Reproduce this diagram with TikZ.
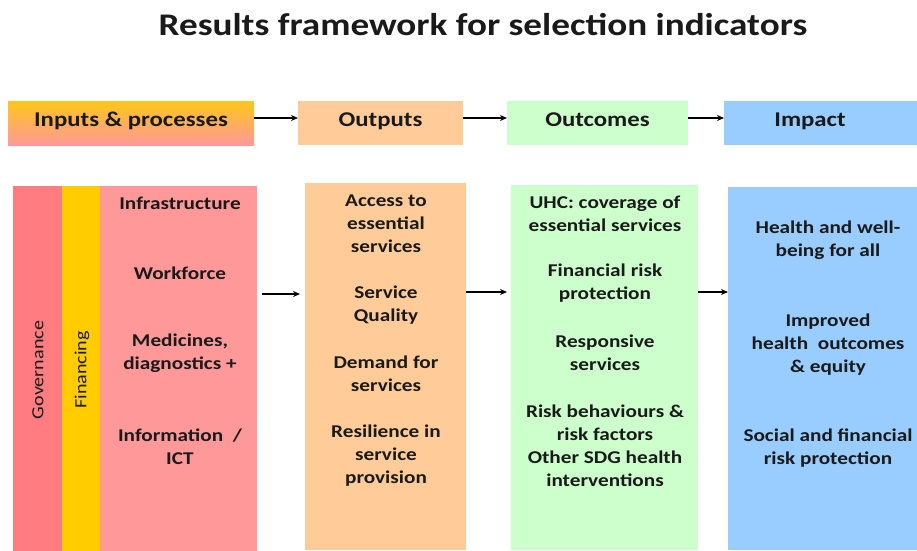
\documentclass[tikz,border=0pt]{standalone}
\usepackage{fontspec}
\setmainfont{Carlito}[FakeStretch=1.18]
\usetikzlibrary{arrows.meta}
\definecolor{txt}{HTML}{1A1A1A}
\definecolor{govc}{HTML}{FF7C80}
\definecolor{pinkc}{HTML}{FF9999}
\definecolor{finc}{HTML}{FFCC00}
\definecolor{outc}{HTML}{FFCC99}
\definecolor{outcomc}{HTML}{CCFFCC}
\definecolor{impc}{HTML}{99CCFF}
\definecolor{topy}{HTML}{FFC61A}
\tikzset{
  box/.style={draw=none, inner sep=0pt, outer sep=0pt},
  head/.style={text=txt, anchor=base, inner sep=0pt, font=\fontsize{21}{24}\selectfont\bfseries},
  body/.style={text=txt, align=center, inner sep=0pt, font=\fontsize{18}{23}\selectfont\bfseries},
  side/.style={text=txt, rotate=90, inner sep=0pt, font=\fontsize{17}{20}\selectfont},
  arr/.style={-{Stealth[length=7pt,width=6pt]}, line width=1.4pt, black}
}
\begin{document}
\begin{tikzpicture}[x=1pt,y=-1pt]
\useasboundingbox (0,0) rectangle (917,550);
% title
\node[text=txt, anchor=base, inner sep=0pt, font=\fontsize{31.5}{36}\selectfont\bfseries] (title) at (483,35) {Results framework for selection indicators};
% header boxes
\path[shade, top color=topy, bottom color=pinkc] (8,101) rectangle (254,145);
\node[box, minimum width=246pt, minimum height=44pt] (hin) at (131,123) {};
\node[head] (hintxt) at (131,126) {Inputs \& processes};
\node[box, fill=outc, minimum width=165pt, minimum height=44pt] (hout) at (380.5,123) {};
\node[head] (houttxt) at (380.5,126) {Outputs};
\node[box, fill=outcomc, minimum width=181pt, minimum height=44pt] (hoc) at (597.5,123) {};
\node[head] (hoctxt) at (597.5,126) {Outcomes};
\node[box, fill=impc, minimum width=193pt, minimum height=44pt] (himp) at (820.5,123) {};
\node[head] (himptxt) at (810,126) {Impact};
\draw[arr] (hin.east |- 0,118) -- (hout.west |- 0,118);
\draw[arr] (hout.east |- 0,118) -- (hoc.west |- 0,118);
\draw[arr] (hoc.east |- 0,118) -- (himp.west |- 0,118);
% body: inputs
\node[box, fill=govc, minimum width=49pt, minimum height=365pt] (gov) at (37.5,368.5) {};
\node[box, fill=finc, minimum width=38pt, minimum height=365pt] (fin) at (81,368.5) {};
\node[box, fill=pinkc, minimum width=157pt, minimum height=365pt] (inp) at (178.5,368.5) {};
\node[side] (govtxt) at (38,370) {Governance};
\node[side] (fintxt) at (82,370) {Financing};
\node[body] (i1) at (180,203) {Infrastructure};
\node[body] (i2) at (180,273) {Workforce};
\node[body] (i3) at (180,353) {Medicines,\\diagnostics +};
\node[body] (i4) at (180,446.5) {Information\ \ /\\ICT};
% outputs
\node[box, fill=outc, minimum width=161pt, minimum height=367pt] (out) at (385.5,366.5) {};
\node[body] (o1) at (386,224) {Access to\\essential\\services};
\node[body] (o2) at (386,305) {Service\\Quality};
\node[body] (o3) at (386,374) {Demand for\\services};
\node[body] (o4) at (386,455.5) {Resilience in\\service\\provision};
% outcomes
\node[box, fill=outcomc, minimum width=187pt, minimum height=365pt] (oc) at (604.5,367.5) {};
\node[body] (c1) at (605,213.5) {UHC: coverage of\\essential services};
\node[body] (c2) at (605,283.5) {Financial risk\\protection};
\node[body] (c3) at (605,352.5) {Responsive\\services};
\node[body] (c4) at (605,445.5) {Risk behaviours \&\\risk factors\\Other SDG health\\interventions};
% impact
\node[box, fill=impc, minimum width=189pt, minimum height=363pt] (imp) at (822.5,368.5) {};
\node[body] (m1) at (828,240.5) {Health and well-\\being for all};
\node[body] (m2) at (828,345) {Improved\\health\ \ outcomes\\\& equity};
\node[body] (m3) at (828,448.5) {Social and financial\\risk protection};
% body arrows
\draw[arr] ([xshift=5pt]inp.east |- 0,294) -- ([xshift=-5pt]out.west |- 0,294);
\draw[arr] (out.east |- 0,292) -- ([xshift=-4pt]oc.west |- 0,292);
\draw[arr] (oc.east |- 0,292) -- (imp.west |- 0,292);
\end{tikzpicture}
\end{document}
